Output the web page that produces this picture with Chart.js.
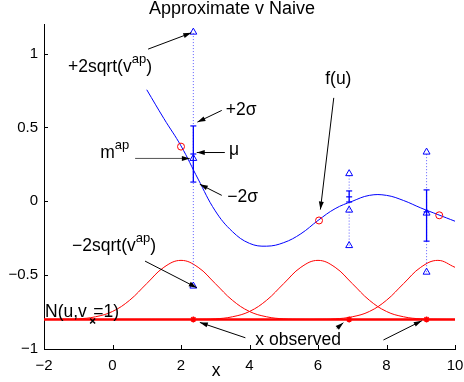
<!DOCTYPE html>
<html>
<head>
<meta charset="utf-8">
<script src="https://cdn.jsdelivr.net/npm/chart.js@4.4.1/dist/chart.umd.min.js"></script>
<style>
    html, body { margin: 0; padding: 0; background: #fff; }
</style>
</head>
<body>
<canvas id="chart" width="464" height="382"></canvas>
<script>
// --- Axis ticks ---
const xTicks = [-2, 0, 2, 4, 6, 8, 10];
const xTickLabels = ['\u22122', '0', '2', '4', '6', '8', '10'];
const yTicks = [-1, -0.5, 0, 0.5, 1];
const yTickLabels = ['\u22121', '\u22120.5', '0', '0.5', '1'];

// --- Blue curve f(u) ---
const fX = [1, 1.5, 2, 2.5, 3, 3.5, 4, 4.5, 5, 5.5, 6, 6.5, 7, 7.5, 8, 8.5, 9, 9.5, 10];
const fY = [0.755, 0.56, 0.375, 0.15, -0.065, -0.205, -0.285, -0.304, -0.28, -0.22, -0.13, -0.05, 0.0, 0.04, 0.04, 0.005, -0.045, -0.09, -0.135];

// --- Red bumps N(u, v_x = 1) ---
const gaussX = [-2, -1.5, -1, -0.5, 0, 0.5, 1, 1.5, 2, 2.5, 3, 3.5, 4, 4.5, 5, 5.5, 6, 6.5, 7, 7.5, 8, 8.5, 9, 9.5, 10];
const gauss1Y = [-0.8, -0.799, -0.796, -0.782, -0.746, -0.67, -0.557, -0.447, -0.4, -0.447, -0.557, -0.67, -0.746, -0.782, -0.796, -0.799, -0.8, -0.8, -0.8, -0.8, -0.8, -0.8, -0.8, -0.8, -0.8];
const gauss2Y = [-0.8, -0.8, -0.8, -0.8, -0.8, -0.8, -0.8, -0.8, -0.8, -0.799, -0.796, -0.782, -0.746, -0.67, -0.557, -0.447, -0.4, -0.447, -0.557, -0.67, -0.746, -0.782, -0.796, -0.799, -0.8];
const gauss3Y = [-0.8, -0.8, -0.8, -0.8, -0.8, -0.8, -0.8, -0.8, -0.8, -0.8, -0.8, -0.8, -0.8, -0.8, -0.8, -0.8, -0.799, -0.796, -0.782, -0.746, -0.67, -0.557, -0.447, -0.4, -0.447];
const baseX = [-2, 10];
const baseY = [-0.8, -0.8];

// --- Observations and approximations ---
const obsX = [2.36, 6.91, 9.17];
const obsY = [-0.8, -0.8, -0.8];
const apUpper = [1.145, 0.187, 0.333];   // +2sqrt(v^ap)
const apLower = [-0.574, -0.30, -0.48];  // -2sqrt(v^ap)
const apMean = [0.29, -0.06, -0.08];     // m^ap
const sigUpper = [0.51, 0.07, 0.077];    // +2 sigma
const sigMean = [0.32, 0.03, -0.072];    // mu
const sigLower = [0.13, -0.005, -0.27];  // -2 sigma
const circX = [2.0, 6.03, 9.54];
const circY = [0.37, -0.13, -0.095];
const crossX = [-0.58];
const crossY = [-0.81];

const BLUE = '#0000ff';
const RED = '#ff0000';
const FONT = '"Liberation Sans", Arial, Helvetica, sans-serif';

// Text labels and arrows (data coordinates)
const NOTES = [
    { parts: [{ t: '+2sqrt(v' }, { t: 'ap', sup: true }, { t: ')' }], at: [-1.30, 0.874], arrow: [1.04, 1.03, 2.30, 1.14] },
    { parts: [{ t: '+2\u03c3' }], at: [3.31, 0.586], arrow: [3.19, 0.615, 2.48, 0.536] },
    { parts: [{ t: '\u03bc' }], at: [3.40, 0.311], arrow: [3.28, 0.33, 2.46, 0.33] },
    { parts: [{ t: 'm' }, { t: 'ap', sup: true }], at: [-0.36, 0.29], arrow: [0.66, 0.29, 2.26, 0.29], lineColor: '#555' },
    { parts: [{ t: '\u22122\u03c3' }], at: [3.35, -0.005], arrow: [3.19, 0.04, 2.55, 0.115] },
    { parts: [{ t: 'f(u)' }], at: [6.21, 0.795], arrow: [6.46, 0.70, 6.07, -0.056] },
    { parts: [{ t: '\u22122sqrt(v' }, { t: 'ap', sup: true }, { t: ')' }], at: [-1.18, -0.338], arrow: [0.95, -0.405, 2.46, -0.585] },
    // the subscript x falls on the black cross marker
    { parts: [{ t: 'N(u,v' }, { t: 'x', sub: true, hide: true }, { t: '=1)' }], at: [-1.97, -0.786] },
    { parts: [{ t: 'x observed' }], at: [4.17, -0.973], arrows: [[3.88, -0.924, 2.55, -0.82], [6.55, -0.86, 6.74, -0.822], [7.91, -0.939, 9.03, -0.809]] }
];

const pts = (xs, ys) => xs.map((x, i) => ({ x, y: ys[i] }));

function drawRich(ctx, parts, px, py) {
    let cx = px;
    parts.forEach(p => {
        const small = p.sup || p.sub;
        ctx.font = `${small ? 13 : 17.5}px ${FONT}`;
        const dy = p.sup ? -9 : (p.sub ? 4 : 0);
        if (!p.hide) ctx.fillText(p.t, cx, py + dy);
        cx += ctx.measureText(p.t).width;
    });
}

function drawArrow(ctx, x1, y1, x2, y2, color) {
    ctx.strokeStyle = color;
    ctx.lineWidth = 1;
    ctx.beginPath();
    ctx.moveTo(x1, y1);
    ctx.lineTo(x2, y2);
    ctx.stroke();
    const a = Math.atan2(y2 - y1, x2 - x1);
    const len = 8, half = 2.5;
    ctx.fillStyle = '#000';
    ctx.beginPath();
    ctx.moveTo(x2, y2);
    ctx.lineTo(x2 - len * Math.cos(a) + half * Math.sin(a), y2 - len * Math.sin(a) - half * Math.cos(a));
    ctx.lineTo(x2 - len * Math.cos(a) - half * Math.sin(a), y2 - len * Math.sin(a) + half * Math.cos(a));
    ctx.closePath();
    ctx.fill();
}

const annotate = {
    id: 'annotate',
    afterDraw(chart) {
        const { ctx, chartArea, scales: { x, y } } = chart;
        ctx.save();

        // inward tick marks
        ctx.strokeStyle = '#000';
        ctx.lineWidth = 1;
        ctx.beginPath();
        xTicks.forEach(v => {
            const px = Math.round(x.getPixelForValue(v)) + 0.5;
            ctx.moveTo(px, chartArea.bottom);
            ctx.lineTo(px, chartArea.bottom - 4);
        });
        yTicks.forEach(v => {
            const py = Math.round(y.getPixelForValue(v)) + 0.5;
            ctx.moveTo(chartArea.left, py);
            ctx.lineTo(chartArea.left + 4, py);
        });
        ctx.stroke();

        // labels and arrows
        ctx.textBaseline = 'alphabetic';
        ctx.textAlign = 'left';
        NOTES.forEach(n => {
            const list = n.arrows || (n.arrow ? [n.arrow] : []);
            list.forEach(a => drawArrow(ctx,
                x.getPixelForValue(a[0]), y.getPixelForValue(a[1]),
                x.getPixelForValue(a[2]), y.getPixelForValue(a[3]),
                n.lineColor || '#000'));
            ctx.fillStyle = '#000';
            drawRich(ctx, n.parts, x.getPixelForValue(n.at[0]), y.getPixelForValue(n.at[1]));
        });

        // x axis label
        ctx.font = `17.5px ${FONT}`;
        ctx.fillText('x', x.getPixelForValue(2.9), chartArea.bottom + 27);
        ctx.restore();
    }
};

// --- Datasets ---
const datasets = [
    { data: pts(circX, circY), pointStyle: 'circle', pointRadius: 3.5, borderColor: RED, backgroundColor: 'rgba(0,0,0,0)', borderWidth: 1 },
    { data: pts(crossX, crossY), pointStyle: 'crossRot', pointRadius: 3.5, borderColor: '#000', borderWidth: 1.5 },
    { data: pts(obsX, apMean), pointStyle: 'triangle', pointRadius: 4, borderColor: BLUE, backgroundColor: 'rgba(0,0,0,0)', borderWidth: 1 },
    { data: pts(obsX, apUpper).concat(pts(obsX, apLower)), pointStyle: 'triangle', pointRadius: 4, borderColor: BLUE, backgroundColor: 'rgba(0,0,0,0)', borderWidth: 1 },
    { data: pts(obsX, sigUpper).concat(pts(obsX, sigMean), pts(obsX, sigLower)), pointStyle: 'line', pointRadius: 3, borderColor: BLUE, borderWidth: 1.2 },
    { data: pts(obsX, obsY), pointStyle: 'star', pointRadius: 3, borderColor: RED, backgroundColor: RED, borderWidth: 1.5 }
];

obsX.forEach((ox, i) => {
    // solid +/-2 sigma bar
    datasets.push({ data: [{ x: ox, y: sigLower[i] }, { x: ox, y: sigUpper[i] }], showLine: true, pointRadius: 0, borderColor: BLUE, borderWidth: 1.3 });
    // dotted +/-2 sqrt(v^ap) span
    datasets.push({ data: [{ x: ox, y: apLower[i] }, { x: ox, y: apUpper[i] }], showLine: true, pointRadius: 0, borderColor: 'rgba(40,40,255,0.75)', borderWidth: 1, borderDash: [1, 2] });
});

datasets.push(
    { data: pts(fX, fY), showLine: true, pointRadius: 0, borderColor: BLUE, borderWidth: 1, tension: 0.4 },
    { data: pts(gaussX, gauss1Y), showLine: true, pointRadius: 0, borderColor: RED, borderWidth: 1, tension: 0.4 },
    { data: pts(gaussX, gauss2Y), showLine: true, pointRadius: 0, borderColor: RED, borderWidth: 1, tension: 0.4 },
    { data: pts(gaussX, gauss3Y), showLine: true, pointRadius: 0, borderColor: RED, borderWidth: 1, tension: 0.4 },
    { data: pts(baseX, baseY), showLine: true, pointRadius: 0, borderColor: RED, borderWidth: 2.5 }
);

Chart.defaults.font.family = FONT;
Chart.defaults.color = '#000';

new Chart(document.getElementById('chart'), {
    type: 'scatter',
    data: { datasets },
    options: {
        responsive: false,
        animation: false,
        devicePixelRatio: 1,
        layout: { padding: { left: 0, right: 0, top: 0, bottom: 0 } },
        plugins: {
            legend: { display: false },
            tooltip: { enabled: false },
            title: {
                display: true,
                text: 'Approximate v Naive',
                color: '#000',
                font: { size: 18, weight: 'normal', lineHeight: 1.0 },
                padding: { top: 0, bottom: 6 }
            }
        },
        scales: {
            x: {
                type: 'linear',
                min: -2,
                max: 10,
                afterBuildTicks: s => { s.ticks = xTicks.map(v => ({ value: v })); },
                afterFit: s => { s.height = 33; s.paddingRight = 9; },
                grid: { display: false, drawTicks: false },
                border: { display: true, color: '#000', width: 1 },
                ticks: { color: '#000', font: { size: 15 }, padding: 8, maxRotation: 0, autoSkip: false, callback: (v, i) => xTickLabels[i] }
            },
            y: {
                type: 'linear',
                min: -1,
                max: 1.2,
                afterBuildTicks: s => { s.ticks = yTicks.map(v => ({ value: v })); },
                afterFit: s => { s.width = 44; },
                grid: { display: false, drawTicks: false },
                border: { display: true, color: '#000', width: 1 },
                ticks: { color: '#000', font: { size: 15 }, padding: 6, autoSkip: false, callback: (v, i) => yTickLabels[i] }
            }
        }
    },
    plugins: [annotate]
});
</script>
</body>
</html>
